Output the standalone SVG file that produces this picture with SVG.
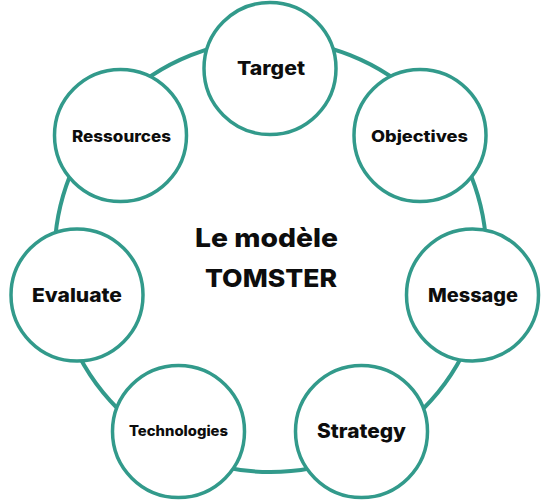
<svg xmlns="http://www.w3.org/2000/svg" width="550" height="500" viewBox="0 0 550 500">
<style>
.ring{fill:none;stroke:#329a8b;stroke-width:4}
.node{fill:#ffffff;stroke:#329a8b;stroke-width:3.5}
text{font-family:Inter,"Liberation Sans",Arial,sans-serif;font-weight:800;fill:#0d0d0d;text-anchor:middle}
</style>
<rect width="550" height="500" fill="#ffffff"/>
<g id="connectors">
<circle class="ring" cx="270.5" cy="256" r="216"/>
</g>
<g id="title">
<text x="266.5" y="247" font-size="26" textLength="143" lengthAdjust="spacingAndGlyphs">Le modèle</text>
<text x="271" y="287" font-size="25" textLength="132" lengthAdjust="spacingAndGlyphs">TOMSTER</text>
</g>
<g id="target">
<circle class="node" cx="270" cy="68.5" r="66"/>
<text x="271" y="75" font-size="19" textLength="68" lengthAdjust="spacingAndGlyphs">Target</text>
</g>
<g id="objectives">
<circle class="node" cx="420" cy="135.5" r="66"/>
<text x="419.5" y="142" font-size="16" textLength="97" lengthAdjust="spacingAndGlyphs">Objectives</text>
</g>
<g id="message">
<circle class="node" cx="472.5" cy="295" r="66"/>
<text x="473" y="302" font-size="19" textLength="90" lengthAdjust="spacingAndGlyphs">Message</text>
</g>
<g id="strategy">
<circle class="node" cx="361.5" cy="431.5" r="66"/>
<text x="361.5" y="438" font-size="20" textLength="89" lengthAdjust="spacingAndGlyphs">Strategy</text>
</g>
<g id="technologies">
<circle class="node" cx="178.5" cy="431.5" r="66"/>
<text x="178.5" y="436" font-size="14" textLength="99" lengthAdjust="spacingAndGlyphs">Technologies</text>
</g>
<g id="evaluate">
<circle class="node" cx="77" cy="295" r="66"/>
<text x="77" y="302" font-size="19" textLength="90" lengthAdjust="spacingAndGlyphs">Evaluate</text>
</g>
<g id="ressources">
<circle class="node" cx="120.5" cy="135.5" r="66"/>
<text x="121.5" y="142" font-size="16" textLength="99" lengthAdjust="spacingAndGlyphs">Ressources</text>
</g>
</svg>
